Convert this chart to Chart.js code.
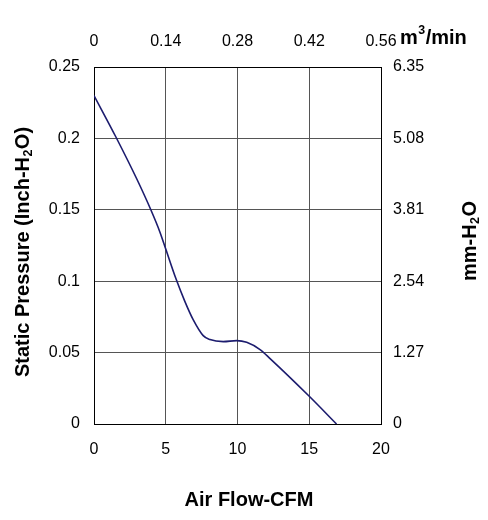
<!DOCTYPE html>
<html>
<head>
<meta charset="utf-8">
<script src="https://cdn.jsdelivr.net/npm/chart.js@4"></script>
<style>
html,body{margin:0;padding:0;background:#fff;}
#wrap{width:488px;height:520px;position:relative;}
</style>
</head>
<body>
<div id="wrap"><canvas id="c" width="488" height="520"></canvas></div>
<script>
const airflowCFM = [0, 1.5, 3, 3.96, 4.59, 5, 5.7, 6.33, 6.91, 7.61, 8.08, 9.01, 9.94, 10.64, 11.57, 12.27, 15, 16.9];
const pressureInch = [0.23, 0.2015, 0.1712, 0.15, 0.1345, 0.1225, 0.102, 0.0859, 0.0731, 0.0619, 0.0591, 0.0577, 0.0584, 0.0572, 0.0521, 0.0458, 0.0194, 0];
const cfmTicks = ['0', '5', '10', '15', '20'];
const inchTicks = ['0', '0.05', '0.1', '0.15', '0.2', '0.25'];
const m3Ticks = ['0', '0.14', '0.28', '0.42', '0.56'];
const mmTicks = ['0', '1.27', '2.54', '3.81', '5.08', '6.35'];

const FONT = "'Liberation Sans', Arial, sans-serif";
const tickFont = {family: FONT, size: 16};

// draw text pieces with optional subscript/superscript at (px, cy), rotated by angle
function richText(ctx, parts, px, cy, angle, size, align) {
  ctx.save();
  ctx.translate(px, cy);
  ctx.rotate(angle);
  ctx.fillStyle = '#000';
  ctx.textBaseline = 'middle';
  ctx.textAlign = 'left';
  let total = 0;
  const widths = parts.map(p => {
    ctx.font = 'bold ' + (p.s ? size * 0.62 : size) + 'px ' + FONT;
    const w = ctx.measureText(p.t).width + (p.s ? 1 : 0);
    total += w;
    return w;
  });
  let x = align === 'left' ? 0 : -total / 2;
  parts.forEach((p, i) => {
    ctx.font = 'bold ' + (p.s ? size * 0.62 : size) + 'px ' + FONT;
    const dy = p.s === 'sub' ? size * 0.3 : p.s === 'sup' ? -size * 0.38 : 0;
    ctx.fillText(p.t, x + (p.s ? 0.5 : 0), dy);
    x += widths[i];
  });
  ctx.restore();
}

const titles = {
  id: 'titles',
  afterDraw(chart) {
    const ctx = chart.ctx;
    richText(ctx, [{t: 'Air Flow-CFM'}], 249, 500, 0, 20);
    richText(ctx, [{t: 'Static Pressure (Inch-H'}, {t: '2', s: 'sub'}, {t: 'O)'}], 23, 252, -Math.PI / 2, 20);
    richText(ctx, [{t: 'mm-H'}, {t: '2', s: 'sub'}, {t: 'O'}], 470, 241, -Math.PI / 2, 20);
    richText(ctx, [{t: 'm'}, {t: '3', s: 'sup'}, {t: '/min'}], 400, 38, 0, 20, 'left');
  }
};

new Chart(document.getElementById('c'), {
  type: 'line',
  data: {
    datasets: [{
      data: airflowCFM.map((x, i) => ({x: x, y: pressureInch[i]})),
      borderColor: '#1c1c6e',
      borderWidth: 1.6,
      pointRadius: 0,
      fill: false,
      cubicInterpolationMode: 'monotone',
      xAxisID: 'x',
      yAxisID: 'y'
    }]
  },
  options: {
    responsive: false,
    animation: false,
    devicePixelRatio: 1,
    layout: {padding: 0},
    plugins: {legend: {display: false}, tooltip: {enabled: false}},
    scales: {
      x: {
        type: 'linear', position: 'bottom', min: 0, max: 20,
        afterBuildTicks: s => { s.ticks = cfmTicks.map(v => ({value: parseFloat(v)})); },
        afterFit: s => { s.height = 96; },
        ticks: {font: tickFont, color: '#000', padding: 16, maxRotation: 0,
          callback: (v, i) => cfmTicks[i]},
        grid: {color: '#555', lineWidth: 1, drawTicks: false},
        border: {color: '#000', width: 1}
      },
      x2: {
        type: 'linear', position: 'top', min: 0, max: 0.56, display: true,
        afterBuildTicks: s => { s.ticks = m3Ticks.map(v => ({value: parseFloat(v)})); },
        afterFit: s => { s.height = 67; },
        ticks: {font: tickFont, color: '#000', padding: 16, maxRotation: 0,
          callback: (v, i) => m3Ticks[i]},
        grid: {display: false, drawTicks: false},
        border: {color: '#000', width: 1}
      },
      y: {
        type: 'linear', position: 'left', min: 0, max: 0.25,
        afterBuildTicks: s => { s.ticks = inchTicks.map(v => ({value: parseFloat(v)})); },
        afterFit: s => { s.width = 94; },
        ticks: {font: tickFont, color: '#000', padding: 14,
          callback: (v, i) => inchTicks[i]},
        grid: {color: '#555', lineWidth: 1, drawTicks: false},
        border: {color: '#000', width: 1}
      },
      y2: {
        type: 'linear', position: 'right', min: 0, max: 6.35, display: true,
        afterBuildTicks: s => { s.ticks = mmTicks.map(v => ({value: parseFloat(v)})); },
        afterFit: s => { s.width = 107; },
        ticks: {font: tickFont, color: '#000', padding: 12,
          callback: (v, i) => mmTicks[i]},
        grid: {display: false, drawTicks: false},
        border: {color: '#000', width: 1}
      }
    }
  },
  plugins: [titles]
});
</script>
</body>
</html>
